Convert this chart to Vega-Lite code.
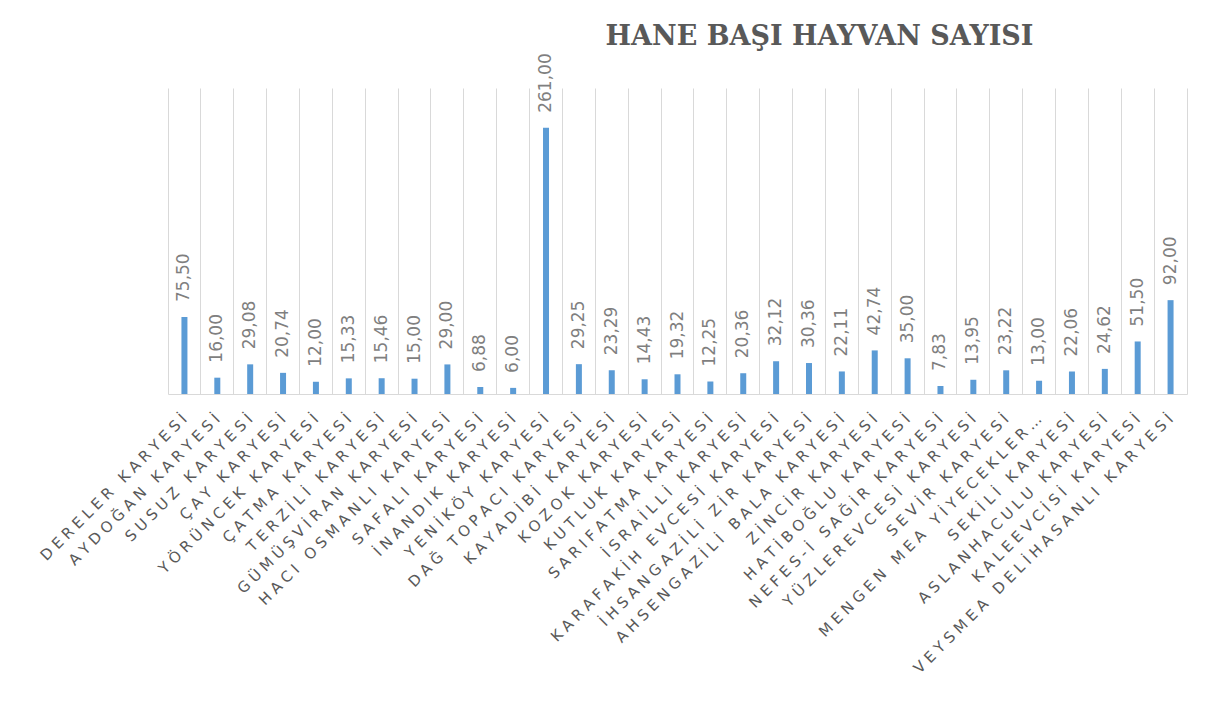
{
  "$schema": "https://vega.github.io/schema/vega-lite/v6.json",
  "autosize": "none",
  "width": 1019,
  "height": 306,
  "padding": {"left": 168, "top": 88, "right": 28, "bottom": 307},
  "background": "white",
  "title": {
    "text": "HANE BAŞI HAYVAN SAYISI",
    "font": "DejaVu Serif",
    "fontSize": 27,
    "fontWeight": "bold",
    "color": "#595959",
    "anchor": "middle",
    "dx": 142,
    "offset": 2
  },
  "config": {
    "locale": {"number": {"decimal": ",", "thousands": ".", "grouping": [3], "currency": ["", ""]}},
    "view": {"stroke": null}
  },
  "data": {
    "values": [
      {"koy": "DERELER KARYESİ", "value": 75.50},
      {"koy": "AYDOĞAN KARYESİ", "value": 16.00},
      {"koy": "SUSUZ KARYESİ", "value": 29.08},
      {"koy": "ÇAY KARYESİ", "value": 20.74},
      {"koy": "YÖRÜNCEK KARYESİ", "value": 12.00},
      {"koy": "ÇATMA KARYESİ", "value": 15.33},
      {"koy": "TERZİLİ KARYESİ", "value": 15.46},
      {"koy": "GÜMÜŞVİRAN KARYESİ", "value": 15.00},
      {"koy": "HACI OSMANLI KARYESİ", "value": 29.00},
      {"koy": "SAFALI KARYESİ", "value": 6.88},
      {"koy": "İNANDIK KARYESİ", "value": 6.00},
      {"koy": "YENİKÖY KARYESİ", "value": 261.00},
      {"koy": "DAĞ TOPACI KARYESİ", "value": 29.25},
      {"koy": "KAYADİBİ KARYESİ", "value": 23.29},
      {"koy": "KOZOK KARYESİ", "value": 14.43},
      {"koy": "KUTLUK KARYESİ", "value": 19.32},
      {"koy": "SARIFATMA KARYESİ", "value": 12.25},
      {"koy": "İSRAİLLİ KARYESİ", "value": 20.36},
      {"koy": "KARAFAKİH EVCESİ KARYESİ", "value": 32.12},
      {"koy": "İHSANGAZİLİ ZİR KARYESİ", "value": 30.36},
      {"koy": "AHSENGAZİLİ BALA KARYESİ", "value": 22.11},
      {"koy": "ZİNCİR KARYESİ", "value": 42.74},
      {"koy": "HATİBOĞLU KARYESİ", "value": 35.00},
      {"koy": "NEFES-İ SAĞİR KARYESİ", "value": 7.83},
      {"koy": "YÜZLEREVCESİ KARYESİ", "value": 13.95},
      {"koy": "SEVİR KARYESİ", "value": 23.22},
      {"koy": "MENGEN MEA YİYECEKLER…", "value": 13.00},
      {"koy": "SEKİLİ KARYESİ", "value": 22.06},
      {"koy": "ASLANHACULU KARYESİ", "value": 24.62},
      {"koy": "KALEEVCİSİ KARYESİ", "value": 51.50},
      {"koy": "VEYSMEA DELİHASANLI KARYESİ", "value": 92.00}
    ]
  },
  "encoding": {
    "x": {
      "field": "koy",
      "type": "nominal",
      "sort": null,
      "scale": {"paddingInner": 0, "paddingOuter": 0},
      "axis": {
        "title": null,
        "bandPosition": 0,
        "grid": true,
        "gridColor": "#d9d9d9",
        "gridWidth": 1,
        "ticks": false,
        "domainColor": "#d9d9d9",
        "domainWidth": 1,
        "labelAngle": -45,
        "labelAlign": "right",
        "labelBaseline": "middle",
        "labelFont": "DejaVu Sans",
        "labelFontSize": 15,
        "labelColor": "#595959",
        "labelPadding": 22,
        "labelLimit": 0,
        "labelOverlap": false,
        "labelExpr": "join(split(datum.label, ''), '\u2009\u200a')"
      }
    },
    "y": {
      "field": "value",
      "type": "quantitative",
      "scale": {"domain": [0, 300], "nice": false},
      "axis": {
        "orient": "right",
        "title": null,
        "labels": false,
        "ticks": false,
        "grid": false,
        "domain": true,
        "domainColor": "#d9d9d9"
      }
    }
  },
  "layer": [
    {"mark": {"type": "bar", "size": 6, "color": "#5b9bd5"}},
    {
      "mark": {
        "type": "text",
        "angle": 270,
        "align": "left",
        "baseline": "middle",
        "dx": 15,
        "font": "DejaVu Sans",
        "fontSize": 17,
        "color": "#7f7f7f"
      },
      "encoding": {"text": {"field": "value", "type": "quantitative", "format": ".2f"}}
    }
  ]
}
